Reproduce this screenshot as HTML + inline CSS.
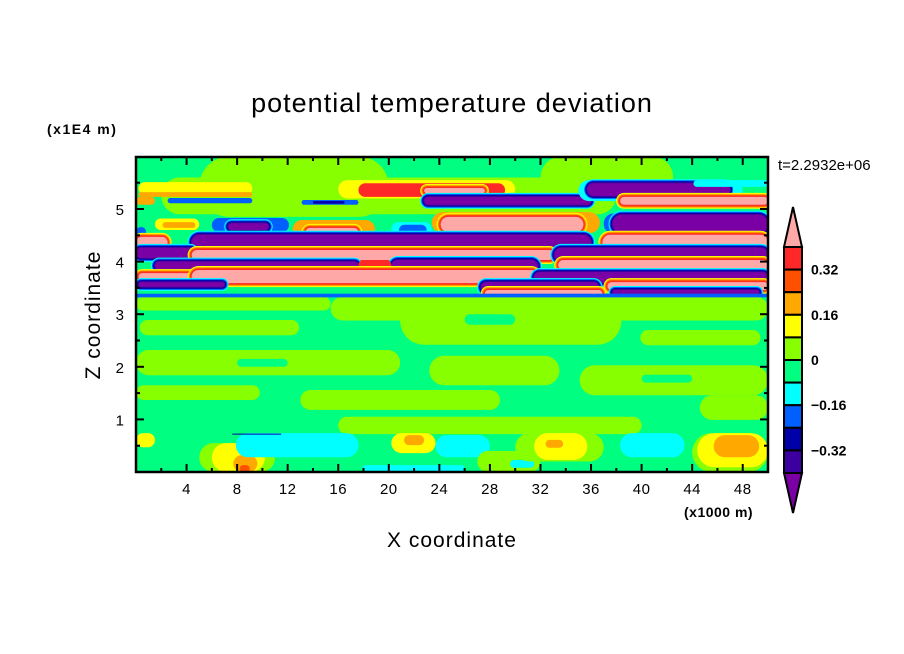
<!DOCTYPE html>
<html><head><meta charset="utf-8">
<style>
html,body{margin:0;padding:0;background:#fff;}
svg{display:block;font-family:"Liberation Sans",sans-serif;}
</style></head>
<body>
<svg id="chart" width="904" height="654" viewBox="0 0 904 654" xmlns="http://www.w3.org/2000/svg">
<text x="452" y="112" font-size="27" text-anchor="middle" fill="#000" letter-spacing="1">potential temperature deviation</text>
<text x="47" y="134" font-size="14" font-weight="bold" fill="#000" letter-spacing="1.5">(x1E4 m)</text>
<text x="778" y="170" font-size="15" fill="#000">t=2.2932e+06</text>
<text x="0" y="0" font-size="21" text-anchor="middle" fill="#000" transform="translate(100,315) rotate(-90)" letter-spacing="1">Z coordinate</text>
<text x="452" y="547" font-size="21" text-anchor="middle" fill="#000" letter-spacing="1">X coordinate</text>
<text x="684" y="517" font-size="14" font-weight="bold" fill="#000" letter-spacing="0.5">(x1000 m)</text>
<defs><clipPath id="plotclip"><rect x="136" y="157" width="632" height="315"/></clipPath></defs>
<g id="field" clip-path="url(#plotclip)"></g>
<g id="axes"></g>
<g id="colorbar"></g>
</svg>
<script>
// ---- data (x in 1000 m, z in 1E4 m) ----
const levelColors = ["#7a00a6","#3c00a0","#0000a8","#0060ff","#00ffff","#00ff80","#88ff00","#ffff00","#ffa800","#ff5000","#ff2828","#ffa8a8"];
const colorbarLabels = ["0.32","0.16","0","-0.16","-0.32"];
const colorbarLabelValues = [0.32,0.16,0,-0.16,-0.32];
const xTickLabels = [4,8,12,16,20,24,28,32,36,40,44,48];
const zTickLabels = [1,2,3,4,5];
// patches: x0, x1, z0, z1, level
const patchX0 = [0,0,2,5,32, 0.2,0.2,16,17.6,22.8,22.8,13.1,14,35,35.7,44.1,38.3,2.5,0,
 1.5,2.1,6,7.3,12.4,13.4,20.2,20.8,23.4,24.1,37,37.7,0,
 0,4.4,36.9, 0,4.4,33.1, 1.5,20.2,33.4,17.6, 0.2,4.4,31.5, 0.2,27.3,37.3,27.6,37.7,
 0,15.4,20.9,0.3,39.9,0,23.2,35.1,0,13,44.6,16,26,8,40,30,
 0,5,6,7.7,8.2,7.9,7.6,20.2,21.2,23.7,17.9,27,29.6,30,31.5,32.4,38.3,44,44.4,45.7];
const patchX1 = [50,50,38,20,42.5, 9.2,9.2,30,29.2,27.6,36,17.6,16.5,48,47,50,50,9.2,1.5,
 5,4.7,12.1,10.5,18.9,17.6,23.4,23,36.7,35.4,50,50,0.8,
 2.5,36,50, 4.7,33.1,50, 17.6,31.8,50,20.2, 5,31.8,50, 7,36.6,50,36.9,49.3,
 15.4,50,38.4,12.9,49.4,20.9,33.5,50,9.8,28.8,50,40,30,12,44,33,
 1.5,11,10.2,9.6,9,17.6,11.5,23.7,22.8,28,26,32,31.5,37,35.7,33.8,43.4,50,50,49.3];
const patchZ0 = [3.33,0,4.9,4.85,5.2, 5.27,5.23,5.2,5.23,5.30,5.08,5.08,5.1,5.15,5.25,5.42,5.08,5.11,5.08,
 4.6,4.64,4.56,4.6,4.45,4.47,4.47,4.5,4.54,4.56,4.52,4.54,4.47,
 4.26,4.22,4.22, 4.07,4.03,4.0, 3.84,3.78,3.84,3.84, 3.65,3.59,3.59, 3.52,3.42,3.46,3.33,3.37,
 3.07,2.88,2.42,2.6,2.41,1.84,1.65,1.46,1.37,1.18,0.99,0.72,2.8,2.0,1.7,1.2,
 0.47,0,0,0,0,0.28,0.71,0.36,0.51,0.28,0,0,0.08,0.2,0.23,0.46,0.28,0,0.09,0.28];
const patchZ1 = [6,3.33,5.6,6,6, 5.51,5.32,5.55,5.49,5.40,5.23,5.17,5.15,5.55,5.49,5.55,5.23,5.21,5.23,
 4.82,4.75,4.83,4.73,4.79,4.64,4.75,4.7,4.94,4.85,4.92,4.89,4.66,
 4.47,4.51,4.51, 4.26,4.22,4.26, 4.0,4.03,4.03,4.03, 3.78,3.84,3.80, 3.61,3.61,3.61,3.46,3.46,
 3.33,3.33,3.33,2.89,2.7,2.32,2.21,2.03,1.65,1.56,1.46,1.05,3.0,2.15,1.85,1.4,
 0.74,0.55,0.55,0.32,0.13,0.74,0.73,0.74,0.70,0.70,0.13,0.4,0.23,0.74,0.74,0.61,0.74,0.74,0.74,0.70];
const patchLevel = [5,5,6,6,6, 7,8,7,10,11,0,3,2,4,0,4,11,3,8,
 7,8,3,0,8,11,4,3,8,11,3,0,3,
 11,0,11, 0,11,0, 0,0,11,10, 11,11,0, 0,0,11,11,0,
 6,6,6,6,6,6,6,6,6,6,6,6,5,5,5,5,
 7,6,7,8,9,4,2,7,8,4,4,6,4,6,7,8,4,6,7,8];
const blueLineZ0 = 3.32, blueLineZ1 = 3.39;

// ---- axis functions ----
const X0=136, X1=768, Y0=472, Y1=157, XMAX=50, ZMAX=(472-157)/52.6;
const sx = x => X0 + (x/XMAX)*(X1-X0);
const sz = z => Y0 - (z/ZMAX)*(Y0-Y1);
const NS="http://www.w3.org/2000/svg";
function mk(tag, attrs, parent){const e=document.createElementNS(NS,tag);for(const k in attrs)e.setAttribute(k,attrs[k]);parent.appendChild(e);return e;}

const field=document.getElementById('field');
function drawPatch(i, x0,x1,z0,z1,lvl,grow){
  const px0=sx(x0)-grow, px1=sx(x1)+grow, py0=sz(z1)-grow, py1=sz(z0)+grow;
  const h=py1-py0;
  const r=mk('rect',{x:px0,y:py0,width:Math.max(0,px1-px0),height:Math.max(0,h),rx:Math.min(h/2,(px1-px0)/2),fill:levelColors[lvl]},field);
  
  
}
for(let i=0;i<patchLevel.length;i++){
  const L=patchLevel[i];
  if(i<2){
    const r=mk('rect',{x:sx(patchX0[i]),y:sz(patchZ1[i]),width:sx(patchX1[i])-sx(patchX0[i]),height:sz(patchZ0[i])-sz(patchZ1[i]),fill:levelColors[L]},field);
    
    
    continue;
  }
  if(L===11){ [7,8,9,10].forEach((rl,k)=>drawPatch(i,patchX0[i],patchX1[i],patchZ0[i],patchZ1[i],rl,(4-k)*1.0)); }
  if(L===0){ [4,3,2,1].forEach((rl,k)=>drawPatch(i,patchX0[i],patchX1[i],patchZ0[i],patchZ1[i],rl,(4-k)*1.0)); }
  drawPatch(i,patchX0[i],patchX1[i],patchZ0[i],patchZ1[i],L,0);
}
const bl=mk('rect',{x:sx(0),y:sz(blueLineZ1),width:sx(50)-sx(0),height:sz(blueLineZ0)-sz(blueLineZ1),fill:levelColors[3]},field);



// ---- axes ----
const axes=document.getElementById('axes');
const fr=mk('rect',{x:X0,y:Y1,width:X1-X0,height:Y0-Y1,fill:'none',stroke:'#000','stroke-width':2.5},axes);


for(let x=2;x<XMAX;x+=2){
  const major = x%4===0, len = major?8:4;
  mk('line',{x1:sx(x),x2:sx(x),y1:Y0,y2:Y0-len,stroke:'#000','stroke-width':2},axes);
  mk('line',{x1:sx(x),x2:sx(x),y1:Y1,y2:Y1+len,stroke:'#000','stroke-width':2},axes);
}
xTickLabels.forEach(v=>{
  const t=mk('text',{x:sx(v),y:Y0+22,'font-size':15,'text-anchor':'middle',fill:'#000','letter-spacing':'0.5'},axes);
  t.textContent=v;
  
  
});
for(let z=0.5;z<ZMAX;z+=0.5){
  const major = Math.abs(z-Math.round(z))<1e-6, len = major?8:4;
  mk('line',{x1:X0,x2:X0+len,y1:sz(z),y2:sz(z),stroke:'#000','stroke-width':2},axes);
  mk('line',{x1:X1,x2:X1-len,y1:sz(z),y2:sz(z),stroke:'#000','stroke-width':2},axes);
}
zTickLabels.forEach(v=>{
  const t=mk('text',{x:X0-12,y:sz(v)+6,'font-size':15,'text-anchor':'end',fill:'#000'},axes);
  t.textContent=v;
  
  
});

// ---- colorbar ----
const cb=document.getElementById('colorbar');
const CBX0=784, CBX1=802, CBTOP=247, CBBOT=473, NB=10, bh=(CBBOT-CBTOP)/NB, VTOP=0.4, VSTEP=0.08;
const cy = v => CBTOP + (VTOP - v)/VSTEP*bh;
const tu=mk('polygon',{points:`${CBX0},${CBTOP} ${(CBX0+CBX1)/2},${CBTOP-40} ${CBX1},${CBTOP}`,fill:levelColors[11],stroke:'#000','stroke-width':2},cb);


const td=mk('polygon',{points:`${CBX0},${CBBOT} ${(CBX0+CBX1)/2},${CBBOT+40} ${CBX1},${CBBOT}`,fill:levelColors[0],stroke:'#000','stroke-width':2},cb);


for(let k=0;k<NB;k++){
  const r=mk('rect',{x:CBX0,y:CBTOP+k*bh,width:CBX1-CBX0,height:bh,fill:levelColors[10-k],stroke:'#000','stroke-width':2},cb);
  
  
}
colorbarLabels.forEach((s,i)=>{
  const t=mk('text',{x:811,y:cy(colorbarLabelValues[i])+5,'font-size':14,'font-weight':'bold',fill:'#000'},cb);
  t.textContent=s.replace('-','\u2212');
  
  
});
</script>
</body></html>
